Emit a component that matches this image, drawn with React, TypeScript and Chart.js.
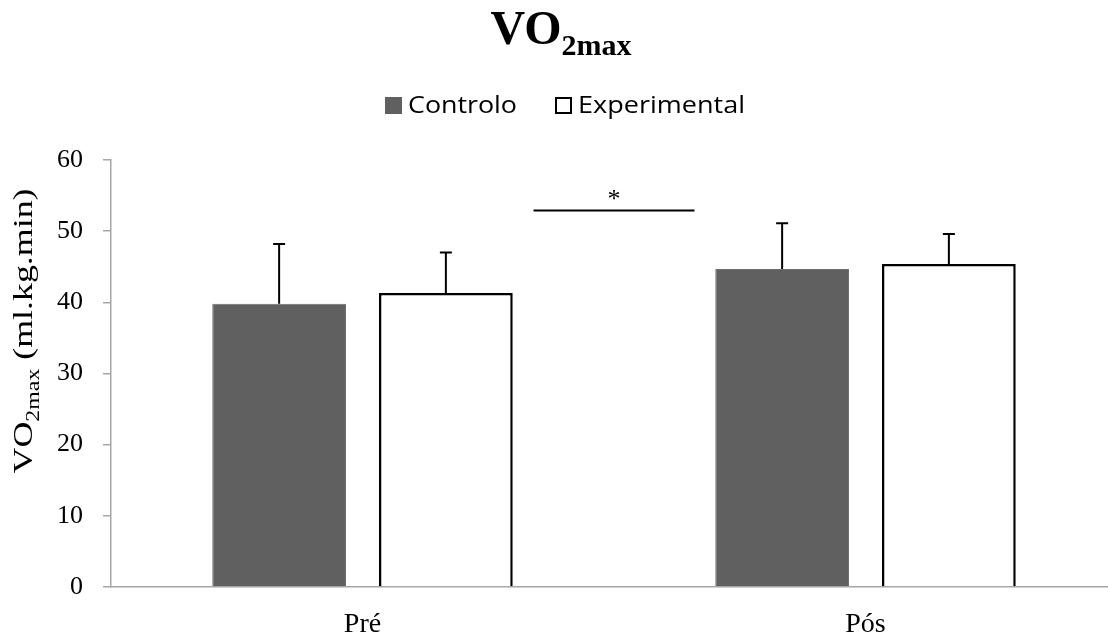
import React, { useEffect, useRef } from "react";
import { Chart, registerables } from "chart.js";

Chart.register(...registerables);

const categories = ["Pré", "Pós"];
const seriesNames = ["Controlo", "Experimental"];
const controlo = [39.8, 44.7];
const controloErr = [8.4, 6.4];
const experimental = [41.3, 45.4];
const experimentalErr = [5.7, 4.2];
const yTicks = [0, 10, 20, 30, 40, 50, 60];
const sigLevel = 52.9; // value where the significance line sits
const sigFrom = 0.34; // category index positions
const sigTo = 0.66;
const sigMark = "*";

const SERIF = "'Liberation Serif', 'Times New Roman', serif";
const SANS = "'Open Sans', Lato, sans-serif";

const errorBarsPlugin = {
  id: "errorBars",
  afterDatasetsDraw(chart: any) {
    const ctx = chart.ctx;
    const yScale = chart.scales.y;
    chart.data.datasets.forEach((ds: any, di: number) => {
      const meta = chart.getDatasetMeta(di);
      const errs = ds.errors || [];
      meta.data.forEach((el: any, i: number) => {
        const v = ds.data[i];
        const e = errs[i];
        if (e == null) return;
        const yTop = yScale.getPixelForValue(v);
        const yErr = yScale.getPixelForValue(v + e);
        ctx.save();
        ctx.strokeStyle = "#000";
        ctx.lineWidth = 2;
        ctx.beginPath();
        ctx.moveTo(el.x, yTop);
        ctx.lineTo(el.x, yErr);
        ctx.moveTo(el.x - 6, yErr);
        ctx.lineTo(el.x + 6, yErr);
        ctx.stroke();
        ctx.restore();
      });
    });
  },
};

const decorPlugin = {
  id: "decor",
  afterDraw(chart: any) {
    const ctx = chart.ctx;
    const xs = chart.scales.x;
    const ys = chart.scales.y;
    ctx.save();
    // Title VO2max
    ctx.fillStyle = "#000";
    ctx.textBaseline = "alphabetic";
    ctx.textAlign = "left";
    const bigFont = `bold 48px ${SERIF}`;
    const subFont = `bold 30px ${SERIF}`;
    ctx.font = bigFont;
    const w1 = ctx.measureText("VO").width;
    ctx.font = subFont;
    const w2 = ctx.measureText("2max").width;
    const tx = 561 - (w1 + w2) / 2;
    ctx.font = bigFont;
    ctx.fillText("VO", tx, 44);
    ctx.font = subFont;
    ctx.fillText("2max", tx + w1, 55);

    // Legend
    const ds = chart.data.datasets;
    const legendY = 97;
    const box = 17;
    const starts = [385, 555];
    const textW = [109, 167];
    ctx.font = `23px ${SANS}`;
    ds.forEach((d: any, i: number) => {
      const x0 = starts[i];
      ctx.fillStyle = d.backgroundColor;
      ctx.fillRect(x0, legendY, box, box);
      if (d.borderColor === "#000000") {
        ctx.strokeStyle = "#000";
        ctx.lineWidth = 2;
        ctx.strokeRect(x0 + 1, legendY + 1, box - 2, box - 2);
      }
      ctx.fillStyle = "#000";
      const mw = ctx.measureText(d.label).width;
      ctx.save();
      ctx.translate(x0 + box + 6, 113);
      ctx.scale(textW[i] / mw, 1);
      ctx.fillText(d.label, 0, 0);
      ctx.restore();
    });

    // Y axis title (rotated)
    ctx.save();
    ctx.translate(32, 331);
    ctx.rotate(-Math.PI / 2);
    const mainF = `27px ${SERIF}`;
    const smallF = `18px ${SERIF}`;
    ctx.font = mainF;
    const a = ctx.measureText("VO").width;
    ctx.font = smallF;
    const b = ctx.measureText("2max").width;
    ctx.font = mainF;
    const c = ctx.measureText(" (ml.kg.min)").width;
    const total = a + b + c;
    const sx = 285 / total;
    ctx.scale(sx, 1);
    let px = -total / 2;
    ctx.fillStyle = "#000";
    ctx.font = mainF;
    ctx.fillText("VO", px, 0);
    px += a;
    ctx.font = smallF;
    ctx.fillText("2max", px, 7);
    px += b;
    ctx.font = mainF;
    ctx.fillText(" (ml.kg.min)", px, 0);
    ctx.restore();

    // Significance line and star
    const x1 = xs.getPixelForValue(sigFrom);
    const x2 = xs.getPixelForValue(sigTo);
    const sy = ys.getPixelForValue(sigLevel);
    ctx.strokeStyle = "#000";
    ctx.lineWidth = 2;
    ctx.beginPath();
    ctx.moveTo(x1, sy);
    ctx.lineTo(x2, sy);
    ctx.stroke();
    ctx.font = `26px ${SERIF}`;
    ctx.textAlign = "center";
    ctx.fillStyle = "#000";
    ctx.fillText(sigMark, (x1 + x2) / 2, sy - 4);
    ctx.restore();
  },
};

export default function App() {
  const ref = useRef<HTMLCanvasElement | null>(null);
  useEffect(() => {
    if (!ref.current) return;
    const chart = new Chart(ref.current, {
      type: "bar",
      data: {
        labels: categories,
        datasets: [
          {
            label: seriesNames[0],
            data: controlo,
            errors: controloErr,
            backgroundColor: "#606060",
            borderColor: "#6e6e6e",
            borderWidth: 1,
            barPercentage: 0.802,
            categoryPercentage: 0.663,
          } as any,
          {
            label: seriesNames[1],
            data: experimental,
            errors: experimentalErr,
            backgroundColor: "#ffffff",
            borderColor: "#000000",
            borderWidth: 2.5,
            barPercentage: 0.802,
            categoryPercentage: 0.663,
          } as any,
        ],
      },
      options: {
        responsive: false,
        animation: false,
        layout: { padding: { top: 160, left: 0, right: 3, bottom: 0 } },
        plugins: {
          legend: { display: false },
          title: { display: false },
          tooltip: { enabled: false },
        },
        scales: {
          x: {
            grid: { display: false },
            border: { display: true, color: "#a6a6a6", width: 1.5 },
            ticks: {
              color: "#000",
              font: { family: SERIF, size: 28 },
              padding: 13,
            },
            afterFit: (s: any) => {
              s.height = 49;
            },
          },
          y: {
            min: 0,
            max: 60,
            afterBuildTicks: (s: any) => {
              s.ticks = yTicks.map((v) => ({ value: v }));
            },
            grid: {
              drawOnChartArea: false,
              drawTicks: true,
              tickLength: 8,
              color: "#a6a6a6",
              lineWidth: 1.5,
            },
            border: { display: true, color: "#a6a6a6", width: 1.5 },
            ticks: {
              color: "#000",
              font: { family: SERIF, size: 26 },
              padding: 20,
            },
            afterFit: (s: any) => {
              s.width = 111;
            },
          },
        },
      },
      plugins: [errorBarsPlugin, decorPlugin],
    });
    return () => chart.destroy();
  }, []);
  return (
    <div
      style={{
        position: "fixed",
        left: 0,
        top: 0,
        width: 1108,
        height: 636,
        overflow: "hidden",
        background: "#fff",
      }}
    >
      <canvas ref={ref} width={1120} height={636} style={{ width: 1120, height: 636 }} />
    </div>
  );
}
